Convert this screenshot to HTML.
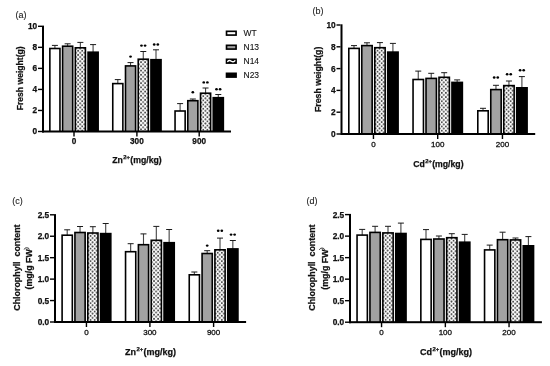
<!DOCTYPE html>
<html><head><meta charset="utf-8"><style>
html,body{margin:0;padding:0;background:#fff;}
svg{display:block;filter:blur(0.35px);}
text{font-family:"Liberation Sans", sans-serif;fill:#111;stroke:#111;stroke-width:0.25px;}
.tk{font-size:8.2px;font-weight:bold;}
.tkr{font-size:8.0px;font-weight:normal;stroke-width:0.3px;}
.tky{font-size:8.3px;font-weight:bold;}
.tt{font-size:8.9px;font-weight:bold;}
.sup{font-size:5.9px;}
.tx{font-size:8.5px;font-weight:bold;}
.sup2{font-size:5px;font-weight:normal;}
.pl{font-size:9px;fill:#222;stroke:#222;stroke-width:0.1px;}
.lg{font-size:8.5px;fill:#111;stroke-width:0.1px;}
</style></head><body>
<svg width="550" height="366" viewBox="0 0 550 366">
<defs>
<pattern id="pa0" width="4.1" height="4.2" patternUnits="userSpaceOnUse" patternTransform="translate(78.11,50.80)"><rect width="4.1" height="4.2" fill="#fff"/><circle cx="0" cy="0" r="0.95" fill="#444"/><circle cx="4.1" cy="0" r="0.95" fill="#444"/><circle cx="0" cy="4.2" r="0.95" fill="#444"/><circle cx="4.1" cy="4.2" r="0.95" fill="#444"/><circle cx="2.05" cy="2.1" r="0.95" fill="#444"/></pattern><pattern id="pa1" width="4.1" height="4.2" patternUnits="userSpaceOnUse" patternTransform="translate(141.02,62.20)"><rect width="4.1" height="4.2" fill="#fff"/><circle cx="0" cy="0" r="0.95" fill="#444"/><circle cx="4.1" cy="0" r="0.95" fill="#444"/><circle cx="0" cy="4.2" r="0.95" fill="#444"/><circle cx="4.1" cy="4.2" r="0.95" fill="#444"/><circle cx="2.05" cy="2.1" r="0.95" fill="#444"/></pattern><pattern id="pa2" width="4.1" height="4.2" patternUnits="userSpaceOnUse" patternTransform="translate(203.31,96.20)"><rect width="4.1" height="4.2" fill="#fff"/><circle cx="0" cy="0" r="0.95" fill="#444"/><circle cx="4.1" cy="0" r="0.95" fill="#444"/><circle cx="0" cy="4.2" r="0.95" fill="#444"/><circle cx="4.1" cy="4.2" r="0.95" fill="#444"/><circle cx="2.05" cy="2.1" r="0.95" fill="#444"/></pattern><pattern id="pb0" width="4.1" height="4.2" patternUnits="userSpaceOnUse" patternTransform="translate(377.54,50.70)"><rect width="4.1" height="4.2" fill="#fff"/><circle cx="0" cy="0" r="0.95" fill="#444"/><circle cx="4.1" cy="0" r="0.95" fill="#444"/><circle cx="0" cy="4.2" r="0.95" fill="#444"/><circle cx="4.1" cy="4.2" r="0.95" fill="#444"/><circle cx="2.05" cy="2.1" r="0.95" fill="#444"/></pattern><pattern id="pb1" width="4.1" height="4.2" patternUnits="userSpaceOnUse" patternTransform="translate(441.79,80.30)"><rect width="4.1" height="4.2" fill="#fff"/><circle cx="0" cy="0" r="0.95" fill="#444"/><circle cx="4.1" cy="0" r="0.95" fill="#444"/><circle cx="0" cy="4.2" r="0.95" fill="#444"/><circle cx="4.1" cy="4.2" r="0.95" fill="#444"/><circle cx="2.05" cy="2.1" r="0.95" fill="#444"/></pattern><pattern id="pb2" width="4.1" height="4.2" patternUnits="userSpaceOnUse" patternTransform="translate(506.54,88.60)"><rect width="4.1" height="4.2" fill="#fff"/><circle cx="0" cy="0" r="0.95" fill="#444"/><circle cx="4.1" cy="0" r="0.95" fill="#444"/><circle cx="0" cy="4.2" r="0.95" fill="#444"/><circle cx="4.1" cy="4.2" r="0.95" fill="#444"/><circle cx="2.05" cy="2.1" r="0.95" fill="#444"/></pattern><pattern id="pc0" width="4.1" height="4.2" patternUnits="userSpaceOnUse" patternTransform="translate(90.56,236.00)"><rect width="4.1" height="4.2" fill="#fff"/><circle cx="0" cy="0" r="0.95" fill="#444"/><circle cx="4.1" cy="0" r="0.95" fill="#444"/><circle cx="0" cy="4.2" r="0.95" fill="#444"/><circle cx="4.1" cy="4.2" r="0.95" fill="#444"/><circle cx="2.05" cy="2.1" r="0.95" fill="#444"/></pattern><pattern id="pc1" width="4.1" height="4.2" patternUnits="userSpaceOnUse" patternTransform="translate(154.01,243.30)"><rect width="4.1" height="4.2" fill="#fff"/><circle cx="0" cy="0" r="0.95" fill="#444"/><circle cx="4.1" cy="0" r="0.95" fill="#444"/><circle cx="0" cy="4.2" r="0.95" fill="#444"/><circle cx="4.1" cy="4.2" r="0.95" fill="#444"/><circle cx="2.05" cy="2.1" r="0.95" fill="#444"/></pattern><pattern id="pc2" width="4.1" height="4.2" patternUnits="userSpaceOnUse" patternTransform="translate(217.71,252.80)"><rect width="4.1" height="4.2" fill="#fff"/><circle cx="0" cy="0" r="0.95" fill="#444"/><circle cx="4.1" cy="0" r="0.95" fill="#444"/><circle cx="0" cy="4.2" r="0.95" fill="#444"/><circle cx="4.1" cy="4.2" r="0.95" fill="#444"/><circle cx="2.05" cy="2.1" r="0.95" fill="#444"/></pattern><pattern id="pd0" width="4.1" height="4.2" patternUnits="userSpaceOnUse" patternTransform="translate(385.65,235.90)"><rect width="4.1" height="4.2" fill="#fff"/><circle cx="0" cy="0" r="0.95" fill="#444"/><circle cx="4.1" cy="0" r="0.95" fill="#444"/><circle cx="0" cy="4.2" r="0.95" fill="#444"/><circle cx="4.1" cy="4.2" r="0.95" fill="#444"/><circle cx="2.05" cy="2.1" r="0.95" fill="#444"/></pattern><pattern id="pd1" width="4.1" height="4.2" patternUnits="userSpaceOnUse" patternTransform="translate(449.45,240.70)"><rect width="4.1" height="4.2" fill="#fff"/><circle cx="0" cy="0" r="0.95" fill="#444"/><circle cx="4.1" cy="0" r="0.95" fill="#444"/><circle cx="0" cy="4.2" r="0.95" fill="#444"/><circle cx="4.1" cy="4.2" r="0.95" fill="#444"/><circle cx="2.05" cy="2.1" r="0.95" fill="#444"/></pattern><pattern id="pd2" width="4.1" height="4.2" patternUnits="userSpaceOnUse" patternTransform="translate(513.15,242.90)"><rect width="4.1" height="4.2" fill="#fff"/><circle cx="0" cy="0" r="0.95" fill="#444"/><circle cx="4.1" cy="0" r="0.95" fill="#444"/><circle cx="0" cy="4.2" r="0.95" fill="#444"/><circle cx="4.1" cy="4.2" r="0.95" fill="#444"/><circle cx="2.05" cy="2.1" r="0.95" fill="#444"/></pattern>
</defs>
<rect width="550" height="366" fill="#fff"/>
<line x1="54.91" y1="45.40" x2="54.91" y2="48.70" stroke="#444" stroke-width="1.1"/>
<line x1="51.91" y1="45.40" x2="57.91" y2="45.40" stroke="#1a1a1a" stroke-width="1.0"/>
<rect x="49.05" y="47.70" width="11.70" height="83.80" fill="#000"/>
<rect x="50.66" y="49.30" width="8.50" height="82.20" fill="#ffffff"/>
<line x1="67.63" y1="43.80" x2="67.63" y2="46.40" stroke="#444" stroke-width="1.1"/>
<line x1="64.63" y1="43.80" x2="70.63" y2="43.80" stroke="#1a1a1a" stroke-width="1.0"/>
<rect x="61.78" y="45.40" width="11.70" height="86.10" fill="#000"/>
<rect x="63.38" y="47.00" width="8.50" height="84.50" fill="#a2a2a2"/>
<line x1="80.36" y1="42.40" x2="80.36" y2="48.00" stroke="#444" stroke-width="1.1"/>
<line x1="77.36" y1="42.40" x2="83.36" y2="42.40" stroke="#1a1a1a" stroke-width="1.0"/>
<rect x="74.52" y="47.00" width="11.70" height="84.50" fill="#000"/>
<rect x="76.11" y="48.60" width="8.50" height="82.90" fill="url(#pa0)"/>
<line x1="93.09" y1="44.60" x2="93.09" y2="52.40" stroke="#444" stroke-width="1.1"/>
<line x1="90.09" y1="44.60" x2="96.09" y2="44.60" stroke="#1a1a1a" stroke-width="1.0"/>
<rect x="87.25" y="51.40" width="11.70" height="80.10" fill="#000"/>
<line x1="117.81" y1="79.60" x2="117.81" y2="83.80" stroke="#444" stroke-width="1.1"/>
<line x1="114.81" y1="79.60" x2="120.81" y2="79.60" stroke="#1a1a1a" stroke-width="1.0"/>
<rect x="111.96" y="82.80" width="11.70" height="48.70" fill="#000"/>
<rect x="113.56" y="84.40" width="8.50" height="47.10" fill="#ffffff"/>
<line x1="130.54" y1="62.60" x2="130.54" y2="66.10" stroke="#444" stroke-width="1.1"/>
<line x1="127.54" y1="62.60" x2="133.54" y2="62.60" stroke="#1a1a1a" stroke-width="1.0"/>
<rect x="124.69" y="65.10" width="11.70" height="66.40" fill="#000"/>
<rect x="126.29" y="66.70" width="8.50" height="64.80" fill="#a2a2a2"/>
<ellipse cx="130.54" cy="56.60" rx="1.35" ry="1.2" fill="#000"/>
<line x1="143.27" y1="51.50" x2="143.27" y2="59.40" stroke="#444" stroke-width="1.1"/>
<line x1="140.27" y1="51.50" x2="146.27" y2="51.50" stroke="#1a1a1a" stroke-width="1.0"/>
<rect x="137.42" y="58.40" width="11.70" height="73.10" fill="#000"/>
<rect x="139.02" y="60.00" width="8.50" height="71.50" fill="url(#pa1)"/>
<ellipse cx="141.47" cy="45.60" rx="1.35" ry="1.2" fill="#000"/>
<ellipse cx="145.07" cy="45.60" rx="1.35" ry="1.2" fill="#000"/>
<line x1="156.00" y1="49.80" x2="156.00" y2="59.90" stroke="#444" stroke-width="1.1"/>
<line x1="153.00" y1="49.80" x2="159.00" y2="49.80" stroke="#1a1a1a" stroke-width="1.0"/>
<rect x="150.15" y="58.90" width="11.70" height="72.60" fill="#000"/>
<ellipse cx="154.19" cy="44.50" rx="1.35" ry="1.2" fill="#000"/>
<ellipse cx="157.80" cy="44.50" rx="1.35" ry="1.2" fill="#000"/>
<line x1="180.10" y1="103.60" x2="180.10" y2="111.20" stroke="#444" stroke-width="1.1"/>
<line x1="177.10" y1="103.60" x2="183.10" y2="103.60" stroke="#1a1a1a" stroke-width="1.0"/>
<rect x="174.25" y="110.20" width="11.70" height="21.30" fill="#000"/>
<rect x="175.85" y="111.80" width="8.50" height="19.70" fill="#ffffff"/>
<line x1="192.83" y1="99.00" x2="192.83" y2="100.90" stroke="#444" stroke-width="1.1"/>
<line x1="189.83" y1="99.00" x2="195.83" y2="99.00" stroke="#1a1a1a" stroke-width="1.0"/>
<rect x="186.98" y="99.90" width="11.70" height="31.60" fill="#000"/>
<rect x="188.58" y="101.50" width="8.50" height="30.00" fill="#a2a2a2"/>
<ellipse cx="192.83" cy="92.20" rx="1.35" ry="1.2" fill="#000"/>
<line x1="205.56" y1="88.00" x2="205.56" y2="93.40" stroke="#444" stroke-width="1.1"/>
<line x1="202.56" y1="88.00" x2="208.56" y2="88.00" stroke="#1a1a1a" stroke-width="1.0"/>
<rect x="199.72" y="92.40" width="11.70" height="39.10" fill="#000"/>
<rect x="201.31" y="94.00" width="8.50" height="37.50" fill="url(#pa2)"/>
<ellipse cx="203.76" cy="82.40" rx="1.35" ry="1.2" fill="#000"/>
<ellipse cx="207.37" cy="82.40" rx="1.35" ry="1.2" fill="#000"/>
<line x1="218.29" y1="94.50" x2="218.29" y2="97.90" stroke="#444" stroke-width="1.1"/>
<line x1="215.29" y1="94.50" x2="221.29" y2="94.50" stroke="#1a1a1a" stroke-width="1.0"/>
<rect x="212.44" y="96.90" width="11.70" height="34.60" fill="#000"/>
<ellipse cx="216.49" cy="89.20" rx="1.35" ry="1.2" fill="#000"/>
<ellipse cx="220.09" cy="89.20" rx="1.35" ry="1.2" fill="#000"/>
<rect x="42.00" y="25.60" width="2.00" height="106.90" fill="#000"/>
<rect x="42.00" y="130.50" width="189.00" height="2.00" fill="#000"/>
<rect x="38.00" y="25.60" width="4.00" height="1.40" fill="#000"/>
<text x="37.20" y="29.25" text-anchor="end" class="tky">10</text>
<rect x="38.00" y="46.64" width="4.00" height="1.40" fill="#000"/>
<text x="37.20" y="50.29" text-anchor="end" class="tky">8</text>
<rect x="38.00" y="67.68" width="4.00" height="1.40" fill="#000"/>
<text x="37.20" y="71.33" text-anchor="end" class="tky">6</text>
<rect x="38.00" y="88.72" width="4.00" height="1.40" fill="#000"/>
<text x="37.20" y="92.37" text-anchor="end" class="tky">4</text>
<rect x="38.00" y="109.76" width="4.00" height="1.40" fill="#000"/>
<text x="37.20" y="113.41" text-anchor="end" class="tky">2</text>
<rect x="38.00" y="130.80" width="4.00" height="1.40" fill="#000"/>
<text x="37.20" y="134.45" text-anchor="end" class="tky">0</text>
<rect x="73.30" y="131.50" width="1.40" height="5.00" fill="#000"/>
<text x="74.00" y="143.60" text-anchor="middle" class="tk">0</text>
<rect x="136.20" y="131.50" width="1.40" height="5.00" fill="#000"/>
<text x="136.90" y="143.60" text-anchor="middle" class="tk">300</text>
<rect x="198.50" y="131.50" width="1.40" height="5.00" fill="#000"/>
<text x="199.20" y="143.60" text-anchor="middle" class="tk">900</text>
<text x="137.00" y="163.00" text-anchor="middle" class="tx" style="font-size:8.7px">Zn<tspan class="sup" dx="0.4" dy="-3.9">2+</tspan><tspan dx="0.3" dy="3.9">(mg/kg)</tspan></text>
<text transform="translate(23.20,78.30) rotate(-90)" text-anchor="middle" class="tt" style="font-size:8.6px" xml:space="preserve">Fresh weight(g)</text>
<text x="15.40" y="18.30" class="pl">(a)</text>
<line x1="354.00" y1="45.60" x2="354.00" y2="48.60" stroke="#444" stroke-width="1.1"/>
<line x1="351.00" y1="45.60" x2="357.00" y2="45.60" stroke="#1a1a1a" stroke-width="1.0"/>
<rect x="348.00" y="47.60" width="12.00" height="86.40" fill="#000"/>
<rect x="349.60" y="49.20" width="8.80" height="84.80" fill="#ffffff"/>
<line x1="366.97" y1="42.80" x2="366.97" y2="45.80" stroke="#444" stroke-width="1.1"/>
<line x1="363.97" y1="42.80" x2="369.97" y2="42.80" stroke="#1a1a1a" stroke-width="1.0"/>
<rect x="360.97" y="44.80" width="12.00" height="89.20" fill="#000"/>
<rect x="362.57" y="46.40" width="8.80" height="87.60" fill="#a2a2a2"/>
<line x1="379.94" y1="42.60" x2="379.94" y2="47.90" stroke="#444" stroke-width="1.1"/>
<line x1="376.94" y1="42.60" x2="382.94" y2="42.60" stroke="#1a1a1a" stroke-width="1.0"/>
<rect x="373.94" y="46.90" width="12.00" height="87.10" fill="#000"/>
<rect x="375.54" y="48.50" width="8.80" height="85.50" fill="url(#pb0)"/>
<line x1="392.91" y1="43.40" x2="392.91" y2="52.30" stroke="#444" stroke-width="1.1"/>
<line x1="389.91" y1="43.40" x2="395.91" y2="43.40" stroke="#1a1a1a" stroke-width="1.0"/>
<rect x="386.91" y="51.30" width="12.00" height="82.70" fill="#000"/>
<line x1="418.25" y1="71.10" x2="418.25" y2="79.70" stroke="#444" stroke-width="1.1"/>
<line x1="415.25" y1="71.10" x2="421.25" y2="71.10" stroke="#1a1a1a" stroke-width="1.0"/>
<rect x="412.25" y="78.70" width="12.00" height="55.30" fill="#000"/>
<rect x="413.85" y="80.30" width="8.80" height="53.70" fill="#ffffff"/>
<line x1="431.22" y1="73.30" x2="431.22" y2="78.60" stroke="#444" stroke-width="1.1"/>
<line x1="428.22" y1="73.30" x2="434.22" y2="73.30" stroke="#1a1a1a" stroke-width="1.0"/>
<rect x="425.22" y="77.60" width="12.00" height="56.40" fill="#000"/>
<rect x="426.82" y="79.20" width="8.80" height="54.80" fill="#a2a2a2"/>
<line x1="444.19" y1="72.70" x2="444.19" y2="77.50" stroke="#444" stroke-width="1.1"/>
<line x1="441.19" y1="72.70" x2="447.19" y2="72.70" stroke="#1a1a1a" stroke-width="1.0"/>
<rect x="438.19" y="76.50" width="12.00" height="57.50" fill="#000"/>
<rect x="439.79" y="78.10" width="8.80" height="55.90" fill="url(#pb1)"/>
<line x1="457.16" y1="79.90" x2="457.16" y2="82.60" stroke="#444" stroke-width="1.1"/>
<line x1="454.16" y1="79.90" x2="460.16" y2="79.90" stroke="#1a1a1a" stroke-width="1.0"/>
<rect x="451.16" y="81.60" width="12.00" height="52.40" fill="#000"/>
<line x1="483.00" y1="108.30" x2="483.00" y2="111.00" stroke="#444" stroke-width="1.1"/>
<line x1="480.00" y1="108.30" x2="486.00" y2="108.30" stroke="#1a1a1a" stroke-width="1.0"/>
<rect x="477.00" y="110.00" width="12.00" height="24.00" fill="#000"/>
<rect x="478.60" y="111.60" width="8.80" height="22.40" fill="#ffffff"/>
<line x1="495.97" y1="85.30" x2="495.97" y2="89.80" stroke="#444" stroke-width="1.1"/>
<line x1="492.97" y1="85.30" x2="498.97" y2="85.30" stroke="#1a1a1a" stroke-width="1.0"/>
<rect x="489.97" y="88.80" width="12.00" height="45.20" fill="#000"/>
<rect x="491.57" y="90.40" width="8.80" height="43.60" fill="#a2a2a2"/>
<ellipse cx="494.17" cy="77.50" rx="1.35" ry="1.2" fill="#000"/>
<ellipse cx="497.77" cy="77.50" rx="1.35" ry="1.2" fill="#000"/>
<line x1="508.94" y1="81.00" x2="508.94" y2="85.80" stroke="#444" stroke-width="1.1"/>
<line x1="505.94" y1="81.00" x2="511.94" y2="81.00" stroke="#1a1a1a" stroke-width="1.0"/>
<rect x="502.94" y="84.80" width="12.00" height="49.20" fill="#000"/>
<rect x="504.54" y="86.40" width="8.80" height="47.60" fill="url(#pb2)"/>
<ellipse cx="507.13" cy="74.20" rx="1.35" ry="1.2" fill="#000"/>
<ellipse cx="510.74" cy="74.20" rx="1.35" ry="1.2" fill="#000"/>
<line x1="521.90" y1="76.60" x2="521.90" y2="88.00" stroke="#444" stroke-width="1.1"/>
<line x1="518.90" y1="76.60" x2="524.90" y2="76.60" stroke="#1a1a1a" stroke-width="1.0"/>
<rect x="515.90" y="87.00" width="12.00" height="47.00" fill="#000"/>
<ellipse cx="520.11" cy="70.20" rx="1.35" ry="1.2" fill="#000"/>
<ellipse cx="523.70" cy="70.20" rx="1.35" ry="1.2" fill="#000"/>
<rect x="340.50" y="24.30" width="2.00" height="110.70" fill="#000"/>
<rect x="340.50" y="133.00" width="194.70" height="2.00" fill="#000"/>
<rect x="336.50" y="24.30" width="4.00" height="1.40" fill="#000"/>
<text x="335.70" y="27.95" text-anchor="end" class="tky">10</text>
<rect x="336.50" y="46.10" width="4.00" height="1.40" fill="#000"/>
<text x="335.70" y="49.75" text-anchor="end" class="tky">8</text>
<rect x="336.50" y="67.90" width="4.00" height="1.40" fill="#000"/>
<text x="335.70" y="71.55" text-anchor="end" class="tky">6</text>
<rect x="336.50" y="89.70" width="4.00" height="1.40" fill="#000"/>
<text x="335.70" y="93.35" text-anchor="end" class="tky">4</text>
<rect x="336.50" y="111.50" width="4.00" height="1.40" fill="#000"/>
<text x="335.70" y="115.15" text-anchor="end" class="tky">2</text>
<rect x="336.50" y="133.30" width="4.00" height="1.40" fill="#000"/>
<text x="335.70" y="136.95" text-anchor="end" class="tky">0</text>
<rect x="372.75" y="134.00" width="1.40" height="5.00" fill="#000"/>
<text x="373.45" y="147.40" text-anchor="middle" class="tkr">0</text>
<rect x="437.00" y="134.00" width="1.40" height="5.00" fill="#000"/>
<text x="437.70" y="147.40" text-anchor="middle" class="tkr">100</text>
<rect x="501.75" y="134.00" width="1.40" height="5.00" fill="#000"/>
<text x="502.45" y="147.40" text-anchor="middle" class="tkr">200</text>
<text x="438.35" y="167.00" text-anchor="middle" class="tx" style="font-size:8.7px">Cd<tspan class="sup" dx="0.4" dy="-3.9">2+</tspan><tspan dx="0.3" dy="3.9">(mg/kg)</tspan></text>
<text transform="translate(321.20,79.35) rotate(-90)" text-anchor="middle" class="tt" style="font-size:8.8px" xml:space="preserve">Fresh weight(g)</text>
<text x="312.60" y="13.70" class="pl">(b)</text>
<line x1="67.20" y1="229.80" x2="67.20" y2="235.40" stroke="#444" stroke-width="1.1"/>
<line x1="64.20" y1="229.80" x2="70.20" y2="229.80" stroke="#1a1a1a" stroke-width="1.0"/>
<rect x="61.30" y="234.40" width="11.80" height="87.60" fill="#000"/>
<rect x="62.91" y="236.00" width="8.60" height="86.00" fill="#ffffff"/>
<line x1="80.04" y1="226.50" x2="80.04" y2="232.70" stroke="#444" stroke-width="1.1"/>
<line x1="77.04" y1="226.50" x2="83.04" y2="226.50" stroke="#1a1a1a" stroke-width="1.0"/>
<rect x="74.14" y="231.70" width="11.80" height="90.30" fill="#000"/>
<rect x="75.73" y="233.30" width="8.60" height="88.70" fill="#a2a2a2"/>
<line x1="92.87" y1="226.70" x2="92.87" y2="233.20" stroke="#444" stroke-width="1.1"/>
<line x1="89.87" y1="226.70" x2="95.87" y2="226.70" stroke="#1a1a1a" stroke-width="1.0"/>
<rect x="86.97" y="232.20" width="11.80" height="89.80" fill="#000"/>
<rect x="88.56" y="233.80" width="8.60" height="88.20" fill="url(#pc0)"/>
<line x1="105.70" y1="223.50" x2="105.70" y2="233.80" stroke="#444" stroke-width="1.1"/>
<line x1="102.70" y1="223.50" x2="108.70" y2="223.50" stroke="#1a1a1a" stroke-width="1.0"/>
<rect x="99.80" y="232.80" width="11.80" height="89.20" fill="#000"/>
<line x1="130.66" y1="243.70" x2="130.66" y2="251.90" stroke="#444" stroke-width="1.1"/>
<line x1="127.66" y1="243.70" x2="133.66" y2="243.70" stroke="#1a1a1a" stroke-width="1.0"/>
<rect x="124.75" y="250.90" width="11.80" height="71.10" fill="#000"/>
<rect x="126.35" y="252.50" width="8.60" height="69.50" fill="#ffffff"/>
<line x1="143.49" y1="233.90" x2="143.49" y2="244.90" stroke="#444" stroke-width="1.1"/>
<line x1="140.49" y1="233.90" x2="146.49" y2="233.90" stroke="#1a1a1a" stroke-width="1.0"/>
<rect x="137.59" y="243.90" width="11.80" height="78.10" fill="#000"/>
<rect x="139.19" y="245.50" width="8.60" height="76.50" fill="#a2a2a2"/>
<line x1="156.31" y1="226.40" x2="156.31" y2="240.50" stroke="#444" stroke-width="1.1"/>
<line x1="153.31" y1="226.40" x2="159.31" y2="226.40" stroke="#1a1a1a" stroke-width="1.0"/>
<rect x="150.41" y="239.50" width="11.80" height="82.50" fill="#000"/>
<rect x="152.01" y="241.10" width="8.60" height="80.90" fill="url(#pc1)"/>
<line x1="169.15" y1="229.50" x2="169.15" y2="242.90" stroke="#444" stroke-width="1.1"/>
<line x1="166.15" y1="229.50" x2="172.15" y2="229.50" stroke="#1a1a1a" stroke-width="1.0"/>
<rect x="163.25" y="241.90" width="11.80" height="80.10" fill="#000"/>
<line x1="194.35" y1="272.00" x2="194.35" y2="275.00" stroke="#444" stroke-width="1.1"/>
<line x1="191.35" y1="272.00" x2="197.35" y2="272.00" stroke="#1a1a1a" stroke-width="1.0"/>
<rect x="188.45" y="274.00" width="11.80" height="48.00" fill="#000"/>
<rect x="190.05" y="275.60" width="8.60" height="46.40" fill="#ffffff"/>
<line x1="207.19" y1="250.70" x2="207.19" y2="253.70" stroke="#444" stroke-width="1.1"/>
<line x1="204.19" y1="250.70" x2="210.19" y2="250.70" stroke="#1a1a1a" stroke-width="1.0"/>
<rect x="201.28" y="252.70" width="11.80" height="69.30" fill="#000"/>
<rect x="202.88" y="254.30" width="8.60" height="67.70" fill="#a2a2a2"/>
<ellipse cx="207.19" cy="245.60" rx="1.35" ry="1.2" fill="#000"/>
<line x1="220.01" y1="238.10" x2="220.01" y2="250.00" stroke="#444" stroke-width="1.1"/>
<line x1="217.01" y1="238.10" x2="223.01" y2="238.10" stroke="#1a1a1a" stroke-width="1.0"/>
<rect x="214.11" y="249.00" width="11.80" height="73.00" fill="#000"/>
<rect x="215.71" y="250.60" width="8.60" height="71.40" fill="url(#pc2)"/>
<ellipse cx="218.21" cy="230.80" rx="1.35" ry="1.2" fill="#000"/>
<ellipse cx="221.81" cy="230.80" rx="1.35" ry="1.2" fill="#000"/>
<line x1="232.84" y1="240.50" x2="232.84" y2="249.10" stroke="#444" stroke-width="1.1"/>
<line x1="229.84" y1="240.50" x2="235.84" y2="240.50" stroke="#1a1a1a" stroke-width="1.0"/>
<rect x="226.94" y="248.10" width="11.80" height="73.90" fill="#000"/>
<ellipse cx="231.04" cy="234.60" rx="1.35" ry="1.2" fill="#000"/>
<ellipse cx="234.65" cy="234.60" rx="1.35" ry="1.2" fill="#000"/>
<rect x="54.00" y="214.10" width="2.00" height="108.90" fill="#000"/>
<rect x="54.00" y="321.00" width="192.10" height="2.00" fill="#000"/>
<rect x="50.00" y="214.10" width="4.00" height="1.40" fill="#000"/>
<text x="49.20" y="217.75" text-anchor="end" class="tky">2.5</text>
<rect x="50.00" y="235.54" width="4.00" height="1.40" fill="#000"/>
<text x="49.20" y="239.19" text-anchor="end" class="tky">2.0</text>
<rect x="50.00" y="256.98" width="4.00" height="1.40" fill="#000"/>
<text x="49.20" y="260.63" text-anchor="end" class="tky">1.5</text>
<rect x="50.00" y="278.42" width="4.00" height="1.40" fill="#000"/>
<text x="49.20" y="282.07" text-anchor="end" class="tky">1.0</text>
<rect x="50.00" y="299.86" width="4.00" height="1.40" fill="#000"/>
<text x="49.20" y="303.51" text-anchor="end" class="tky">0.5</text>
<rect x="50.00" y="321.30" width="4.00" height="1.40" fill="#000"/>
<text x="49.20" y="324.95" text-anchor="end" class="tky">0.0</text>
<rect x="85.75" y="322.00" width="1.40" height="5.00" fill="#000"/>
<text x="86.45" y="335.20" text-anchor="middle" class="tkr">0</text>
<rect x="149.20" y="322.00" width="1.40" height="5.00" fill="#000"/>
<text x="149.90" y="335.20" text-anchor="middle" class="tkr">300</text>
<rect x="212.90" y="322.00" width="1.40" height="5.00" fill="#000"/>
<text x="213.60" y="335.20" text-anchor="middle" class="tkr">900</text>
<text x="150.55" y="355.20" text-anchor="middle" class="tx" style="font-size:9.0px">Zn<tspan class="sup" dx="0.4" dy="-3.9">2+</tspan><tspan dx="0.3" dy="3.9">(mg/kg)</tspan></text>
<text transform="translate(19.70,267.60) rotate(-90)" text-anchor="middle" class="tt" style="font-size:8.9px" xml:space="preserve">Chlorophyll  content</text>
<text transform="translate(32.30,269.30) rotate(-90)" text-anchor="middle" class="tt" style="font-size:8.9px">(mg/g FW</text>
<path d="M24.20,249.40 C24.60,247.30 28.80,247.30 29.40,249.40" stroke="#222" stroke-width="1.0" fill="none"/>
<text x="12.20" y="204.20" class="pl">(c)</text>
<line x1="362.20" y1="229.40" x2="362.20" y2="235.30" stroke="#444" stroke-width="1.1"/>
<line x1="359.20" y1="229.40" x2="365.20" y2="229.40" stroke="#1a1a1a" stroke-width="1.0"/>
<rect x="356.25" y="234.30" width="11.90" height="87.90" fill="#000"/>
<rect x="357.85" y="235.90" width="8.70" height="86.30" fill="#ffffff"/>
<line x1="375.10" y1="226.30" x2="375.10" y2="232.60" stroke="#444" stroke-width="1.1"/>
<line x1="372.10" y1="226.30" x2="378.10" y2="226.30" stroke="#1a1a1a" stroke-width="1.0"/>
<rect x="369.15" y="231.60" width="11.90" height="90.60" fill="#000"/>
<rect x="370.75" y="233.20" width="8.70" height="89.00" fill="#a2a2a2"/>
<line x1="388.00" y1="226.30" x2="388.00" y2="233.10" stroke="#444" stroke-width="1.1"/>
<line x1="385.00" y1="226.30" x2="391.00" y2="226.30" stroke="#1a1a1a" stroke-width="1.0"/>
<rect x="382.05" y="232.10" width="11.90" height="90.10" fill="#000"/>
<rect x="383.65" y="233.70" width="8.70" height="88.50" fill="url(#pd0)"/>
<line x1="400.90" y1="223.10" x2="400.90" y2="233.70" stroke="#444" stroke-width="1.1"/>
<line x1="397.90" y1="223.10" x2="403.90" y2="223.10" stroke="#1a1a1a" stroke-width="1.0"/>
<rect x="394.95" y="232.70" width="11.90" height="89.50" fill="#000"/>
<line x1="426.00" y1="229.60" x2="426.00" y2="239.60" stroke="#444" stroke-width="1.1"/>
<line x1="423.00" y1="229.60" x2="429.00" y2="229.60" stroke="#1a1a1a" stroke-width="1.0"/>
<rect x="420.05" y="238.60" width="11.90" height="83.60" fill="#000"/>
<rect x="421.65" y="240.20" width="8.70" height="82.00" fill="#ffffff"/>
<line x1="438.90" y1="236.00" x2="438.90" y2="239.20" stroke="#444" stroke-width="1.1"/>
<line x1="435.90" y1="236.00" x2="441.90" y2="236.00" stroke="#1a1a1a" stroke-width="1.0"/>
<rect x="432.95" y="238.20" width="11.90" height="84.00" fill="#000"/>
<rect x="434.55" y="239.80" width="8.70" height="82.40" fill="#a2a2a2"/>
<line x1="451.80" y1="233.70" x2="451.80" y2="237.90" stroke="#444" stroke-width="1.1"/>
<line x1="448.80" y1="233.70" x2="454.80" y2="233.70" stroke="#1a1a1a" stroke-width="1.0"/>
<rect x="445.85" y="236.90" width="11.90" height="85.30" fill="#000"/>
<rect x="447.45" y="238.50" width="8.70" height="83.70" fill="url(#pd1)"/>
<line x1="464.70" y1="234.40" x2="464.70" y2="242.40" stroke="#444" stroke-width="1.1"/>
<line x1="461.70" y1="234.40" x2="467.70" y2="234.40" stroke="#1a1a1a" stroke-width="1.0"/>
<rect x="458.75" y="241.40" width="11.90" height="80.80" fill="#000"/>
<line x1="489.70" y1="245.10" x2="489.70" y2="250.10" stroke="#444" stroke-width="1.1"/>
<line x1="486.70" y1="245.10" x2="492.70" y2="245.10" stroke="#1a1a1a" stroke-width="1.0"/>
<rect x="483.75" y="249.10" width="11.90" height="73.10" fill="#000"/>
<rect x="485.35" y="250.70" width="8.70" height="71.50" fill="#ffffff"/>
<line x1="502.60" y1="232.20" x2="502.60" y2="239.90" stroke="#444" stroke-width="1.1"/>
<line x1="499.60" y1="232.20" x2="505.60" y2="232.20" stroke="#1a1a1a" stroke-width="1.0"/>
<rect x="496.65" y="238.90" width="11.90" height="83.30" fill="#000"/>
<rect x="498.25" y="240.50" width="8.70" height="81.70" fill="#a2a2a2"/>
<line x1="515.50" y1="238.00" x2="515.50" y2="240.10" stroke="#444" stroke-width="1.1"/>
<line x1="512.50" y1="238.00" x2="518.50" y2="238.00" stroke="#1a1a1a" stroke-width="1.0"/>
<rect x="509.55" y="239.10" width="11.90" height="83.10" fill="#000"/>
<rect x="511.15" y="240.70" width="8.70" height="81.50" fill="url(#pd2)"/>
<line x1="528.40" y1="236.60" x2="528.40" y2="246.00" stroke="#444" stroke-width="1.1"/>
<line x1="525.40" y1="236.60" x2="531.40" y2="236.60" stroke="#1a1a1a" stroke-width="1.0"/>
<rect x="522.45" y="245.00" width="11.90" height="77.20" fill="#000"/>
<rect x="349.00" y="213.90" width="2.00" height="109.30" fill="#000"/>
<rect x="349.00" y="321.20" width="192.90" height="2.00" fill="#000"/>
<rect x="345.00" y="213.90" width="4.00" height="1.40" fill="#000"/>
<text x="344.20" y="217.55" text-anchor="end" class="tky">2.5</text>
<rect x="345.00" y="235.42" width="4.00" height="1.40" fill="#000"/>
<text x="344.20" y="239.07" text-anchor="end" class="tky">2.0</text>
<rect x="345.00" y="256.94" width="4.00" height="1.40" fill="#000"/>
<text x="344.20" y="260.59" text-anchor="end" class="tky">1.5</text>
<rect x="345.00" y="278.46" width="4.00" height="1.40" fill="#000"/>
<text x="344.20" y="282.11" text-anchor="end" class="tky">1.0</text>
<rect x="345.00" y="299.98" width="4.00" height="1.40" fill="#000"/>
<text x="344.20" y="303.63" text-anchor="end" class="tky">0.5</text>
<rect x="345.00" y="321.50" width="4.00" height="1.40" fill="#000"/>
<text x="344.20" y="325.15" text-anchor="end" class="tky">0.0</text>
<rect x="380.85" y="322.20" width="1.40" height="5.00" fill="#000"/>
<text x="381.55" y="335.20" text-anchor="middle" class="tkr">0</text>
<rect x="444.65" y="322.20" width="1.40" height="5.00" fill="#000"/>
<text x="445.35" y="335.20" text-anchor="middle" class="tkr">100</text>
<rect x="508.35" y="322.20" width="1.40" height="5.00" fill="#000"/>
<text x="509.05" y="335.20" text-anchor="middle" class="tkr">200</text>
<text x="445.95" y="354.90" text-anchor="middle" class="tx" style="font-size:9.0px">Cd<tspan class="sup" dx="0.4" dy="-3.9">2+</tspan><tspan dx="0.3" dy="3.9">(mg/kg)</tspan></text>
<text transform="translate(315.00,267.60) rotate(-90)" text-anchor="middle" class="tt" style="font-size:8.9px" xml:space="preserve">Chlorophyll  content</text>
<text transform="translate(327.60,269.60) rotate(-90)" text-anchor="middle" class="tt" style="font-size:8.9px">(mg/g FW</text>
<path d="M319.50,249.70 C319.90,247.60 324.10,247.60 324.70,249.70" stroke="#222" stroke-width="1.0" fill="none"/>
<text x="306.60" y="204.00" class="pl">(d)</text>
<rect x="225.70" y="30.50" width="11.20" height="5.40" fill="#000"/>
<rect x="227.35" y="32.15" width="7.90" height="2.10" fill="#ffffff"/>
<text x="243.5" y="36.20" class="lg">WT</text>
<rect x="225.70" y="44.50" width="11.20" height="5.40" fill="#000"/>
<rect x="227.35" y="46.15" width="7.90" height="2.10" fill="#a2a2a2"/>
<text x="243.5" y="50.20" class="lg">N13</text>
<rect x="225.70" y="58.50" width="11.20" height="5.40" fill="#000"/>
<path d="M227.70,61.50 c1.1,-1.4 2.3,-1.3 3.6,-0.3 s2.4,0.9 3.6,-0.5" stroke="#fff" stroke-width="1.4" stroke-linecap="round" fill="none"/>
<text x="243.5" y="64.20" class="lg">N14</text>
<rect x="225.70" y="72.50" width="11.20" height="5.40" fill="#000"/>
<text x="243.5" y="78.20" class="lg">N23</text>
</svg>
</body></html>
